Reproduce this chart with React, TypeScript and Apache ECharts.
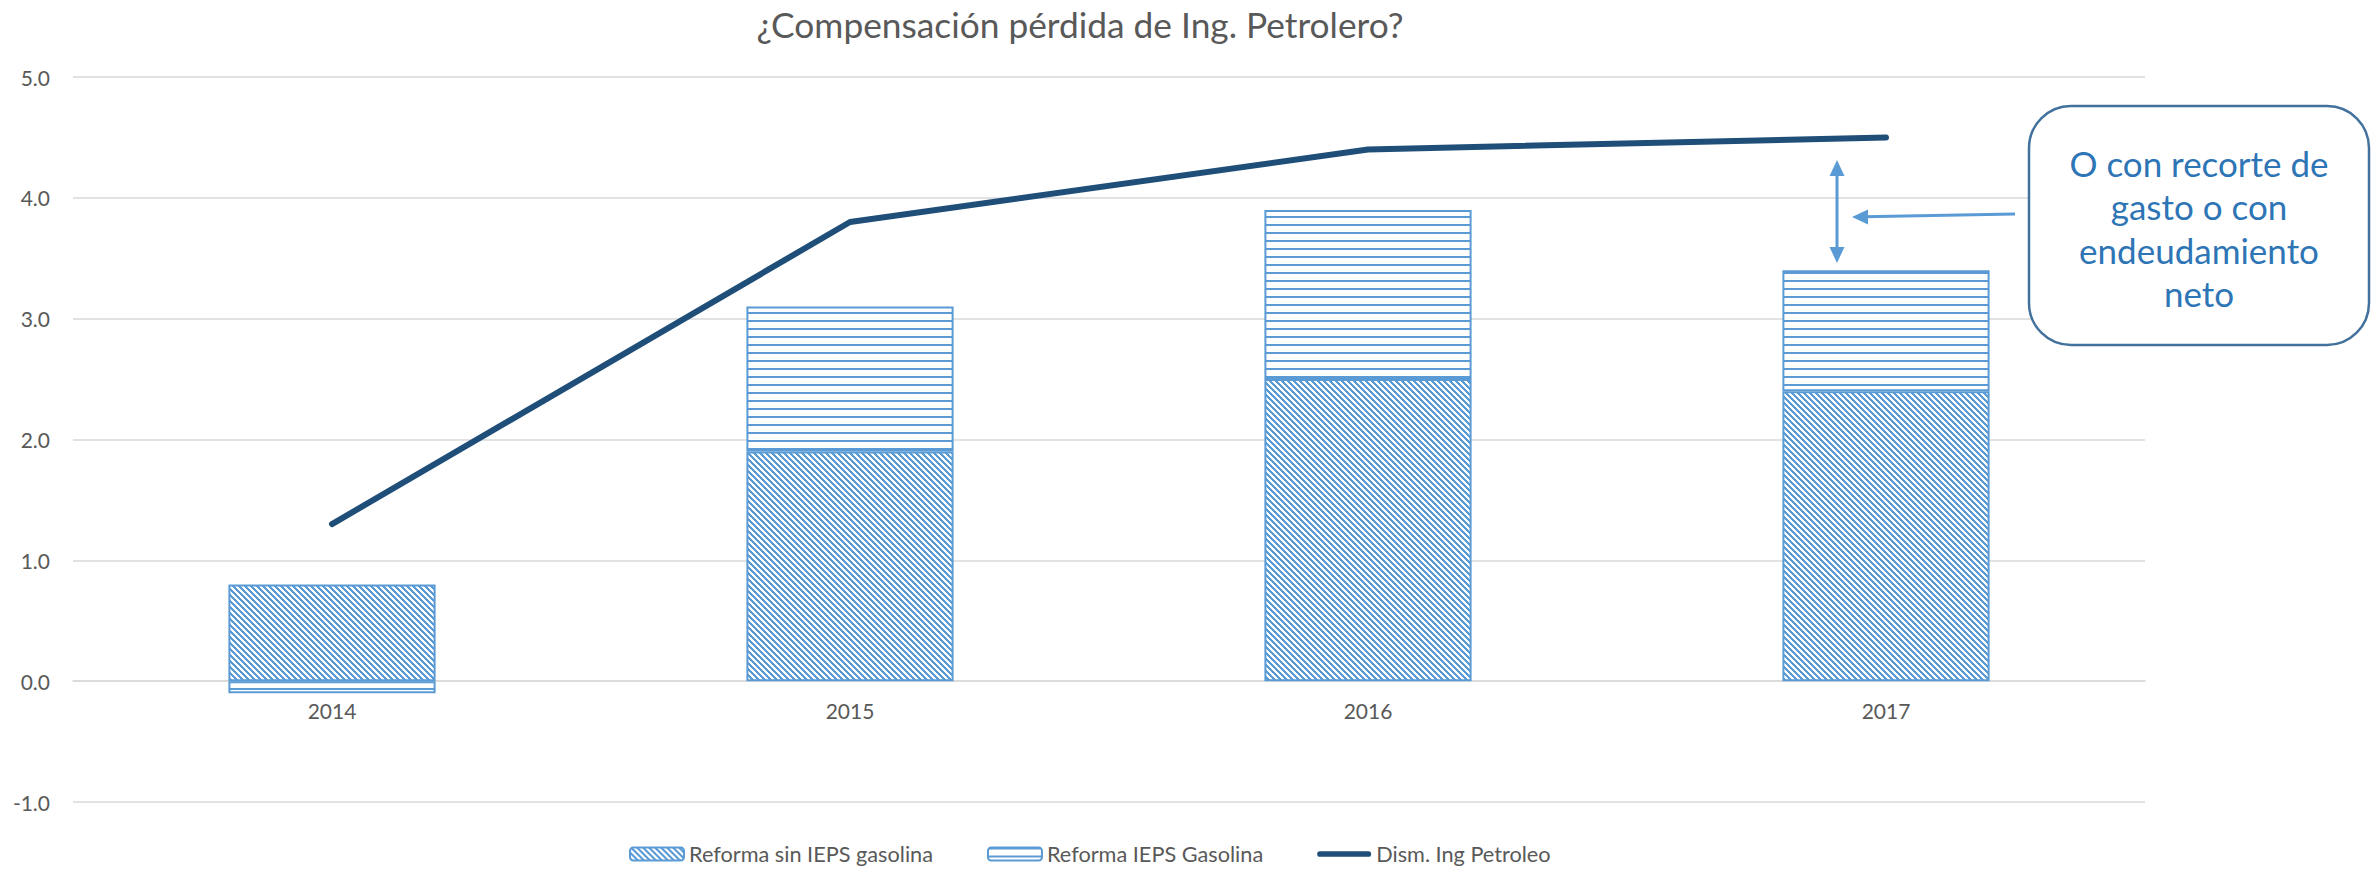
import React, { useEffect, useRef } from 'react';
import * as echarts from 'echarts';

const categories = ['2014', '2015', '2016', '2017'];
const reformaSinIEPS = [0.8, 1.9, 2.5, 2.4];
const reformaIEPS = [-0.1, 1.2, 1.4, 1.0];
const dismIngPetroleo = [1.3, 3.8, 4.4, 4.5];
const yMin = -1;
const yMax = 5;
const yStep = 1;
const seriesNames = ['Reforma sin IEPS gasolina', 'Reforma IEPS Gasolina', 'Dism. Ing Petroleo'];
const titleText = '¿Compensación pérdida de Ing. Petrolero?';
const noteLines = ['O con recorte de', 'gasto o con', 'endeudamiento', 'neto'];

const BAR_BLUE = '#5B9BD5';
const LINE_BLUE = '#1F4E79';
const FONT = 'Lato, "Open Sans", sans-serif';

function makeTile(w: number, h: number, isBlue: (x: number, y: number) => boolean): string {
  const c = document.createElement('canvas');
  c.width = w;
  c.height = h;
  const ctx = c.getContext('2d')!;
  ctx.fillStyle = '#ffffff';
  ctx.fillRect(0, 0, w, h);
  ctx.fillStyle = BAR_BLUE;
  for (let y = 0; y < h; y++) {
    for (let x = 0; x < w; x++) {
      if (isBlue(x, y)) ctx.fillRect(x, y, 1, 1);
    }
  }
  return c.toDataURL();
}

export default function App() {
  const ref = useRef<HTMLDivElement>(null);

  useEffect(() => {
    if (!ref.current) return;
    const chart = echarts.init(ref.current, undefined, { renderer: 'svg' });

    const diag = makeTile(6, 6, (x, y) => (((x - y) % 6) + 6) % 6 < 3);
    const horiz = makeTile(8, 8, (_x, y) => y < 2);

    const gridTop = 77;
    const gridBottomPx = 802;
    const zeroOffset = ((gridBottomPx - gridTop) * (0 - yMin)) / (yMax - yMin);

    const option: any = {
      animation: false,
      backgroundColor: '#ffffff',
      title: {
        text: titleText,
        left: 1080,
        top: 3,
        padding: 0,
        textAlign: 'center',
        textStyle: { fontFamily: FONT, fontSize: 35.3, fontWeight: 'normal', color: '#595959', lineHeight: 42 },
      },
      legend: {
        left: 629,
        top: 842,
        padding: 0,
        itemWidth: 54,
        itemHeight: 13,
        itemGap: 54,
        textStyle: { fontFamily: FONT, fontSize: 21.7, color: '#595959', lineHeight: 24 },
        data: [
          { name: seriesNames[0] },
          { name: seriesNames[1] },
          { name: seriesNames[2], icon: 'path://M3,0 L54,0 A3,3 0 0 1 54,6 L3,6 A3,3 0 0 1 3,0 Z' },
        ],
      },
      grid: { left: 73, right: 227, top: gridTop, bottom: 869 - gridBottomPx, containLabel: false },
      xAxis: {
        type: 'category',
        data: categories,
        offset: -zeroOffset,
        axisLine: { show: true, onZero: false, lineStyle: { color: '#D9D9D9', width: 1.5 } },
        axisTick: { show: false },
        axisLabel: { fontFamily: FONT, fontSize: 21, color: '#595959', margin: 19 },
      },
      yAxis: {
        type: 'value',
        min: yMin,
        max: yMax,
        interval: yStep,
        axisLine: { show: false },
        axisTick: { show: false },
        splitLine: { lineStyle: { color: '#D9D9D9', width: 1.5 } },
        axisLabel: {
          fontFamily: FONT,
          fontSize: 21,
          color: '#595959',
          margin: 23,
          formatter: (v: number) => v.toFixed(1),
        },
      },
      series: [
        {
          name: seriesNames[0],
          type: 'bar',
          stack: 'total',
          barWidth: '40%',
          data: reformaSinIEPS,
          itemStyle: {
            color: { image: diag, repeat: 'repeat' },
            borderColor: BAR_BLUE,
            borderWidth: 2,
          },
        },
        {
          name: seriesNames[1],
          type: 'bar',
          stack: 'total',
          barWidth: '40%',
          data: reformaIEPS,
          itemStyle: {
            color: { image: horiz, repeat: 'repeat' },
            borderColor: BAR_BLUE,
            borderWidth: 2,
          },
        },
        {
          name: seriesNames[2],
          type: 'line',
          data: dismIngPetroleo,
          symbol: 'none',
          showSymbol: false,
          z: 5,
          itemStyle: { color: LINE_BLUE },
          lineStyle: { color: LINE_BLUE, width: 6, cap: 'round' },
        },
      ],
      graphic: [
        {
          type: 'rect',
          shape: { x: 2029, y: 106, width: 340, height: 239, r: 42 },
          style: { fill: '#ffffff', stroke: '#41719C', lineWidth: 2.5 },
          z: 10,
        },
        {
          type: 'text',
          x: 2199,
          y: 228,
          z: 11,
          style: {
            text: noteLines.join('\n'),
            fill: '#2E75B6',
            font: `35px ${FONT}`,
            align: 'center',
            verticalAlign: 'middle',
            lineHeight: 43.5,
          },
        },
        {
          type: 'line',
          shape: { x1: 1837, y1: 172, x2: 1837, y2: 251 },
          style: { stroke: BAR_BLUE, lineWidth: 3 },
          z: 10,
        },
        {
          type: 'polygon',
          shape: { points: [[1837, 160], [1829.5, 176], [1844.5, 176]] },
          style: { fill: BAR_BLUE },
          z: 10,
        },
        {
          type: 'polygon',
          shape: { points: [[1837, 263], [1829.5, 247], [1844.5, 247]] },
          style: { fill: BAR_BLUE },
          z: 10,
        },
        {
          type: 'line',
          shape: { x1: 2015, y1: 214, x2: 1864, y2: 216.8 },
          style: { stroke: BAR_BLUE, lineWidth: 3 },
          z: 10,
        },
        {
          type: 'polygon',
          shape: { points: [[1852, 217], [1868, 209.5], [1868, 224.5]] },
          style: { fill: BAR_BLUE },
          z: 10,
        },
      ],
    };

    chart.setOption(option);
    return () => chart.dispose();
  }, []);

  return (
    <div
      ref={ref}
      style={{ position: 'fixed', left: 0, top: 0, width: 2372, height: 869, background: '#fff' }}
    />
  );
}
